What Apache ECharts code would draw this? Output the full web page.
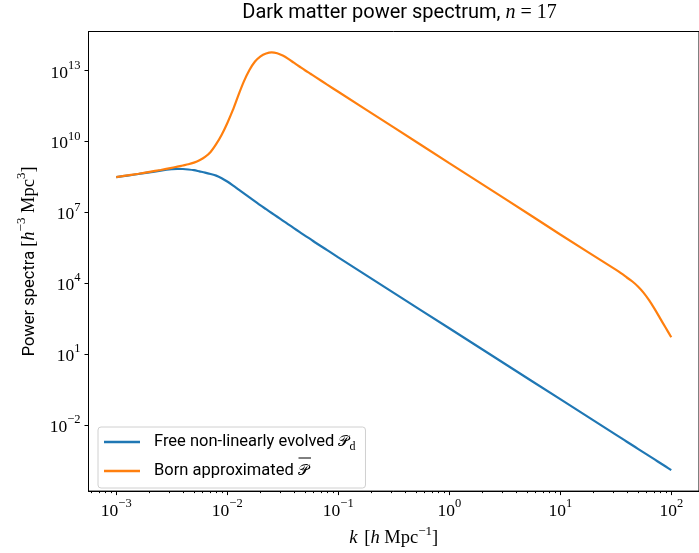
<!DOCTYPE html>
<html>
<head>
<meta charset="utf-8">
<script src="https://cdn.jsdelivr.net/npm/echarts@6/dist/echarts.min.js"></script>
<style>
  html, body { margin: 0; padding: 0; background: #fff; }
  #chart { width: 699px; height: 553px; }
</style>
</head>
<body>
<div id="chart"></div>
<script>
// log10 of k [h/Mpc], shared by both curves
const logK = [-3.0, -2.9, -2.8, -2.7, -2.6, -2.5, -2.45, -2.4, -2.35, -2.3, -2.25, -2.2, -2.15, -2.1,
  -2.05, -2.0, -1.95, -1.9, -1.85, -1.8, -1.75, -1.7, -1.65, -1.6, -1.55, -1.5, -1.45, -1.4, -1.35,
  -1.3, -1.25, -1.2, -1.1, -1.0, -0.5, 0, 0.5, 1.0, 1.5, 1.55, 1.6, 1.65, 1.7, 1.75, 1.8, 1.85, 1.9,
  1.95, 2.0];
// log10 of the free non-linearly evolved spectrum P_d
const logPd = [8.49, 8.55, 8.62, 8.69, 8.76, 8.82, 8.84, 8.83, 8.81, 8.78, 8.73, 8.68, 8.62, 8.55,
  8.44, 8.30, 8.14, 7.97, 7.80, 7.63, 7.46, 7.29, 7.13, 6.97, 6.81, 6.65, 6.49, 6.33, 6.17,
  6.01, 5.86, 5.70, 5.40, 5.09, 3.59, 2.09, 0.59, -0.91, -2.41, -2.56, -2.71, -2.86, -3.01, -3.16, -3.31, -3.46, -3.61,
  -3.76, -3.91];
// log10 of the Born approximated spectrum
const logPborn = [8.49, 8.56, 8.63, 8.71, 8.79, 8.88, 8.93, 8.98, 9.03, 9.10, 9.20, 9.34, 9.55, 9.88,
  10.28, 10.77, 11.32, 11.95, 12.54, 13.02, 13.38, 13.60, 13.72, 13.77, 13.73, 13.63, 13.49, 13.33, 13.17,
  13.01, 12.86, 12.71, 12.40, 12.10, 10.59, 9.08, 7.58, 6.06, 4.57, 4.41, 4.24, 4.07, 3.86, 3.60, 3.28, 2.91, 2.51,
  2.11, 1.71];

const xTickExps = [-3, -2, -1, 0, 1, 2];
const yTickExps = [-2, 1, 4, 7, 10, 13];

// minor ticks at 2..9 x 10^n
const minorX = [];
for (let e = -4; e <= 2; e++) {
  for (let m = 2; m <= 9; m++) {
    const v = e + Math.log10(m);
    if (v > -3.25 && v < 2.25) minorX.push(v);
  }
}

const SERIF = '"Liberation Serif", "DejaVu Serif", serif';
const SANS = 'Roboto, "DejaVu Sans", sans-serif';
const BLUE = '#1f77b4', ORANGE = '#ff7f0e';

function pow10(v) {
  const e = Math.round(v);
  return '{b|10}{e|' + (e < 0 ? '\u2212' + (-e) : e) + '}';
}
const powRich = {
  b: { fontFamily: SERIF, fontSize: 17.5, color: '#000', verticalAlign: 'bottom', lineHeight: 23 },
  e: { fontFamily: SERIF, fontSize: 12.5, color: '#000', verticalAlign: 'top', lineHeight: 23 }
};

const pairs = (ys) => logK.map((x, i) => [x, ys[i]]);

const chart = echarts.init(document.getElementById('chart'));
chart.setOption({
  animation: false,
  backgroundColor: '#fff',
  title: {
    text: '{s|Dark matter power spectrum, }{i|n}{r| = 17}',
    left: 399.5,
    top: 3,
    padding: 0,
    textAlign: 'center',
    textStyle: {
      fontWeight: 'normal',
      rich: {
        s: { fontFamily: SANS, fontWeight: 'normal', fontSize: 20, color: '#000' },
        i: { fontFamily: SERIF, fontWeight: 'normal', fontStyle: 'italic', fontSize: 20, color: '#000' },
        r: { fontFamily: SERIF, fontWeight: 'normal', fontSize: 20, color: '#000' }
      }
    }
  },
  grid: {
    left: 88.5, top: 31.5, width: 621, height: 461,
    show: true, borderColor: '#000', borderWidth: 1, backgroundColor: 'transparent'
  },
  legend: {
    orient: 'vertical',
    left: 98, top: 427,
    padding: [4, 10, 8, 6],
    icon: 'rect',
    itemWidth: 36, itemHeight: 2.5, itemGap: 9,
    backgroundColor: 'rgba(255,255,255,0.8)',
    borderColor: '#d0d0d0', borderWidth: 1, borderRadius: 3,
    data: ['Pd', 'Pborn'],
    formatter: (name) => name === 'Pd'
      ? '{t|Free non-linearly evolved }{m|\uD835\uDCAB}{sub|d}'
      : '{t|Born approximated }{m|\uD835\uDCAB}',
    textStyle: {
      padding: [0, 0, 0, 9],
      lineHeight: 18,
      rich: {
        t: { fontFamily: SANS, fontSize: 16.5, color: '#000', lineHeight: 18 },
        m: { fontFamily: '"DejaVu Serif", serif', fontSize: 15, color: '#000', lineHeight: 18 },
        sub: { fontFamily: SERIF, fontSize: 12, color: '#000', verticalAlign: 'bottom', lineHeight: 22 }
      }
    }
  },
  // macron over the script P of the second legend entry
  graphic: [{
    type: 'line', z: 100,
    shape: { x1: 298.5, y1: 458, x2: 311, y2: 458 },
    style: { stroke: '#000', lineWidth: 1 }
  }],
  xAxis: [{
    type: 'value', min: -3.25, max: 2.25,
    splitLine: { show: false },
    axisLine: { show: true, onZero: false, lineStyle: { color: '#000', width: 1 } },
    axisTick: { show: true, length: 4, customValues: xTickExps, lineStyle: { color: '#000' } },
    axisLabel: { customValues: xTickExps, formatter: pow10, margin: 6, rich: powRich },
    name: '{i|k}  {r|[}{i|h}{r| Mpc}{e|\u22121}{r|]}',
    nameLocation: 'middle', nameGap: 33,
    nameTextStyle: {
      rich: {
        i: { fontFamily: SERIF, fontStyle: 'italic', fontSize: 18.5, color: '#000', verticalAlign: 'bottom', lineHeight: 23 },
        r: { fontFamily: SERIF, fontSize: 18.5, color: '#000', verticalAlign: 'bottom', lineHeight: 23 },
        e: { fontFamily: SERIF, fontSize: 13, color: '#000', verticalAlign: 'top', lineHeight: 23 }
      }
    }
  }, {
    type: 'value', min: -3.25, max: 2.25, position: 'bottom',
    splitLine: { show: false },
    axisLine: { show: false, onZero: false },
    axisTick: { show: true, length: 2, customValues: minorX, lineStyle: { color: '#000' } },
    axisLabel: { show: false }
  }],
  yAxis: {
    type: 'value', min: -4.8, max: 14.65,
    splitLine: { show: false },
    axisLine: { show: true, onZero: false, lineStyle: { color: '#000', width: 1 } },
    axisTick: { show: true, length: 4, customValues: yTickExps, lineStyle: { color: '#000' } },
    axisLabel: { customValues: yTickExps, formatter: pow10, margin: 8, rich: powRich },
    name: '{s|Power spectra }{r|[}{i|h}{e|\u22123}{r| Mpc}{e|3}{r|]}',
    nameLocation: 'middle', nameGap: 50, nameRotate: 90,
    nameTextStyle: {
      rich: {
        s: { fontFamily: SANS, fontSize: 16.5, color: '#000', verticalAlign: 'bottom', lineHeight: 23 },
        i: { fontFamily: SERIF, fontStyle: 'italic', fontSize: 18.5, color: '#000', verticalAlign: 'bottom', lineHeight: 23 },
        r: { fontFamily: SERIF, fontSize: 18.5, color: '#000', verticalAlign: 'bottom', lineHeight: 23 },
        e: { fontFamily: SERIF, fontSize: 13, color: '#000', verticalAlign: 'top', lineHeight: 23 }
      }
    }
  },
  series: [{
    name: 'Pd', type: 'line', data: pairs(logPd), symbol: 'none',
    smooth: 0.3, color: BLUE, lineStyle: { color: BLUE, width: 2.2 }, z: 2
  }, {
    name: 'Pborn', type: 'line', data: pairs(logPborn), symbol: 'none',
    smooth: 0.3, color: ORANGE, lineStyle: { color: ORANGE, width: 2.2 }, z: 3
  }]
});
</script>
</body>
</html>
